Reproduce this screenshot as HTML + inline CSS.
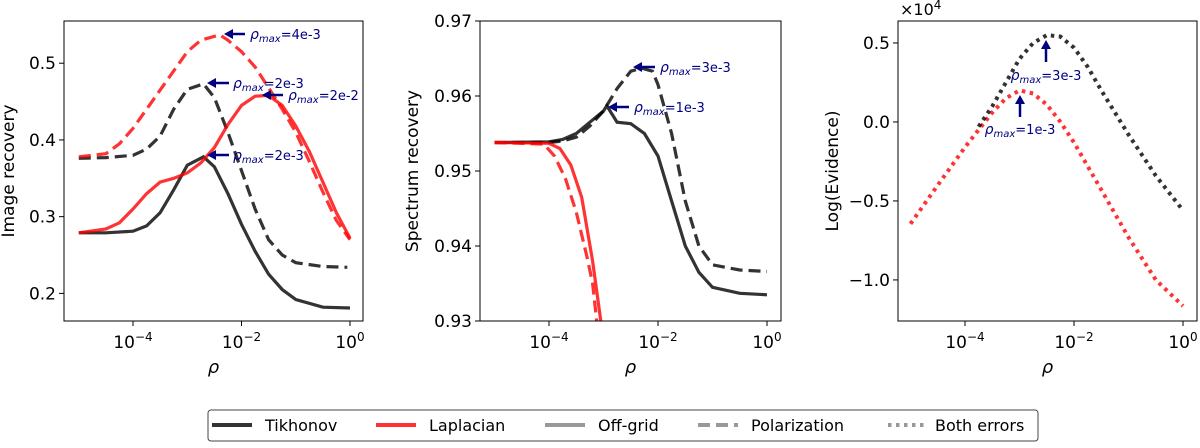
<!DOCTYPE html>
<html><head><meta charset="utf-8"><style>
body{margin:0;background:#fff;width:1200px;height:443px;overflow:hidden}
svg{font-family:"DejaVu Sans","Liberation Sans",sans-serif}
</style></head><body>
<svg id="c" width="1200" height="443"></svg>
<script>
// Panel 1 data (exponents of rho, values)
const p1TikSolidX=[-5,-4.5,-4,-3.75,-3.5,-3.25,-3,-2.7,-2.5,-2.25,-2,-1.75,-1.5,-1.25,-1,-0.5,0];
const p1TikSolidY=[0.279,0.279,0.281,0.288,0.305,0.335,0.367,0.378,0.365,0.33,0.29,0.255,0.225,0.205,0.192,0.182,0.181];
const p1TikDashX=[-5,-4.5,-4,-3.75,-3.5,-3.25,-3,-2.7,-2.5,-2.25,-2,-1.75,-1.5,-1.25,-1,-0.5,-0.05];
const p1TikDashY=[0.376,0.377,0.38,0.388,0.405,0.44,0.466,0.473,0.455,0.41,0.36,0.31,0.27,0.25,0.24,0.235,0.234];
const p1LapSolidX=[-5,-4.5,-4.25,-4,-3.75,-3.5,-3.25,-3,-2.75,-2.5,-2.25,-2,-1.75,-1.5,-1.25,-1,-0.75,-0.5,-0.25,0];
const p1LapSolidY=[0.279,0.284,0.292,0.31,0.33,0.345,0.35,0.357,0.37,0.39,0.42,0.445,0.457,0.458,0.445,0.418,0.385,0.345,0.305,0.272];
const p1LapDashX=[-5,-4.5,-4.25,-4,-3.75,-3.5,-3.25,-3,-2.75,-2.4,-2.25,-2,-1.75,-1.5,-1.25,-1,-0.75,-0.5,-0.25,0];
const p1LapDashY=[0.378,0.382,0.395,0.415,0.44,0.465,0.49,0.515,0.53,0.537,0.53,0.515,0.495,0.468,0.44,0.41,0.372,0.332,0.295,0.27];
// Panel 2
const p2TikSolidX=[-5,-4,-3.75,-3.5,-3.25,-3,-2.94,-2.75,-2.5,-2.25,-2,-1.75,-1.5,-1.25,-1,-0.5,0];
const p2TikSolidY=[0.9538,0.9539,0.9542,0.955,0.9565,0.958,0.9587,0.9565,0.9563,0.955,0.952,0.946,0.94,0.9365,0.9345,0.9337,0.9335];
const p2TikDashX=[-5,-4,-3.75,-3.5,-3.25,-3,-2.75,-2.5,-2.3,-2.1,-2,-1.75,-1.5,-1.25,-1,-0.5,0];
const p2TikDashY=[0.9538,0.9538,0.954,0.9545,0.956,0.958,0.961,0.9633,0.9637,0.9633,0.9615,0.955,0.946,0.94,0.9375,0.9368,0.9366];
const p2LapSolidX=[-5,-4,-3.8,-3.6,-3.4,-3.2,-3.05,-2.95];
const p2LapSolidY=[0.9538,0.9537,0.953,0.9508,0.9465,0.938,0.93,0.925];
const p2LapDashX=[-5,-4.1,-3.9,-3.7,-3.5,-3.3,-3.2,-3.05];
const p2LapDashY=[0.9538,0.9536,0.952,0.949,0.9445,0.9385,0.935,0.925];
// Panel 3
const p3RedX=[-5,-4.5,-4,-3.75,-3.5,-3.25,-3,-2.75,-2.5,-2.25,-2,-1.5,-1,-0.5,0];
const p3RedY=[-0.645,-0.4,-0.16,-0.05,0.06,0.15,0.2,0.18,0.11,0.0,-0.13,-0.43,-0.73,-1.0,-1.165];
const p3BlackX=[-3.75,-3.5,-3.25,-3,-2.75,-2.5,-2.25,-2,-1.75,-1.5,-1,-0.5,0];
const p3BlackY=[-0.03,0.1,0.25,0.4,0.5,0.55,0.54,0.47,0.35,0.2,-0.08,-0.34,-0.56];
const xTickExps=[-4,-2,0];
const p1YTicks=[0.2,0.3,0.4,0.5];
const p2YTicks=[0.93,0.94,0.95,0.96,0.97];
const p3YTicks=[-1.0,-0.5,0.0,0.5];

const NS="http://www.w3.org/2000/svg";
const svg=document.getElementById('c');
function el(t,a,p){const e=document.createElementNS(NS,t);for(const k in a)e.setAttribute(k,a[k]);(p||svg).appendChild(e);return e;}

const panels=[
 {x0:64,x1:363,y0:21,y1:321,xa:133,xb:350,ymin:0.164,ymax:0.555,ticks:p1YTicks,fmt:v=>v.toFixed(1),label:"Image recovery",name:"image-recovery"},
 {x0:480,x1:781,y0:21,y1:321,xa:549,xb:767,ymin:0.93,ymax:0.97,ticks:p2YTicks,fmt:v=>v.toFixed(2),label:"Spectrum recovery",name:"spectrum-recovery"},
 {x0:898,x1:1197,y0:21,y1:321,xa:965,xb:1183,ymin:-1.26,ymax:0.639,ticks:p3YTicks,fmt:v=>(v<0?"\u2212":"")+Math.abs(v).toFixed(1),label:"Log(Evidence)",name:"log-evidence"}
];
panels.forEach((P,i)=>{
 P.sx=e=>P.xa+(e+4)*(P.xb-P.xa)/4;
 P.sy=v=>P.y1-(v-P.ymin)/(P.ymax-P.ymin)*(P.y1-P.y0);
 const g=el('g',{});  
 const cp=el('clipPath',{id:'cp'+i},g); el('rect',{x:P.x0,y:P.y0,width:P.x1-P.x0,height:P.y1-P.y0},cp);
 P.g=g;
 xTickExps.forEach(e=>{const x=P.sx(e);el('line',{x1:x,x2:x,y1:P.y1,y2:P.y1+5,stroke:'#000'},g);
  const t=el('text',{x:x,y:P.y1+27,'font-size':17,'text-anchor':'middle'},g);
  t.textContent='10';const s=el('tspan',{dy:-7,'font-size':12},t);s.textContent=e<0?'\u2212'+(-e):String(e);});
 P.ticks.forEach(v=>{const y=P.sy(v);el('line',{x1:P.x0-5,x2:P.x0,y1:y,y2:y,stroke:'#000'},g);
  const t=el('text',{x:P.x0-8,y:y+6,'font-size':17,'text-anchor':'end'},g);t.textContent=P.fmt(v);});
 const xl=el('text',{x:(P.x0+P.x1)/2,y:P.y1+52,'font-size':18,'font-style':'italic','text-anchor':'middle'},g);xl.textContent='\u03c1';
 const yx=P.x0-(i==0?50:i==1?62:60), ym=(P.y0+P.y1)/2;
 const yl=el('text',{x:yx,y:ym,'font-size':17,'text-anchor':'middle',transform:`rotate(-90 ${yx} ${ym})`},g);yl.textContent=P.label;
});
function line(P,i,xs,ys,color,dash,name,w){
 const d=xs.map((e,k)=>(k?'L':'M')+P.sx(e).toFixed(1)+','+P.sy(ys[k]).toFixed(1)).join('');
 const p=el('path',{d:d,fill:'none',stroke:color,'stroke-width':w||3.2,'stroke-opacity':0.8,'stroke-dasharray':dash,'clip-path':`url(#cp${i})`},P.g);
 
}
const K='#000',R='#ff0000';
line(panels[0],0,p1TikSolidX,p1TikSolidY,K,'none','tikhonov-offgrid-line');
line(panels[0],0,p1TikDashX,p1TikDashY,K,'12,6','tikhonov-polarization-line');
line(panels[0],0,p1LapSolidX,p1LapSolidY,R,'none','laplacian-offgrid-line');
line(panels[0],0,p1LapDashX,p1LapDashY,R,'12,6','laplacian-polarization-line');
line(panels[1],1,p2TikSolidX,p2TikSolidY,K,'none','tikhonov-offgrid-line');
line(panels[1],1,p2TikDashX,p2TikDashY,K,'12,6','tikhonov-polarization-line');
line(panels[1],1,p2LapSolidX,p2LapSolidY,R,'none','laplacian-offgrid-line');
line(panels[1],1,p2LapDashX,p2LapDashY,R,'12,6','laplacian-polarization-line');
line(panels[2],2,p3RedX,p3RedY,R,'3.5,4.5','laplacian-both-errors-line',4);
line(panels[2],2,p3BlackX,p3BlackY,K,'3.5,4.5','tikhonov-both-errors-line',4);
panels.forEach(P=>{const r=el('rect',{x:P.x0,y:P.y0,width:P.x1-P.x0,height:P.y1-P.y0,fill:'none',stroke:'#000','stroke-width':1},P.g);});
// annotations
const N='#000080';
function ann(x,y,txt,anchor){const t=el('text',{x:x,y:y,'font-size':13,fill:N,'text-anchor':anchor||'start'});
 el('tspan',{'font-style':'italic','font-size':14},t).textContent='\u03c1';const s=el('tspan',{'font-style':'italic','font-size':10,dy:3},t);s.textContent='max';const r=el('tspan',{dy:-3},t);r.textContent=txt;}
function arrowL(x1,x2,y){el('line',{x1:x1,x2:x2+6,y1:y,y2:y,stroke:N,'stroke-width':2.5});el('path',{d:`M${x2},${y}L${x2+9},${y-5}L${x2+9},${y+5}Z`,fill:N});}
function arrowU(x,y1,y2){el('line',{x1:x,x2:x,y1:y1,y2:y2+6,stroke:N,'stroke-width':2.5});el('path',{d:`M${x},${y2}L${x-5},${y2+9}L${x+5},${y2+9}Z`,fill:N});}
arrowL(245,224,34);ann(250,39,'=4e-3');
arrowL(229,207,83);ann(233,88,'=2e-3');
arrowL(283,262,95);ann(288,100,'=2e-2');
arrowL(229,207,155);ann(233,160,'=2e-3');
arrowL(655,633,67);ann(660,72,'=3e-3');
arrowL(629,608,107);ann(634,112,'=1e-3');
arrowU(1046,62,40);ann(1046,80,'=3e-3','middle');
arrowU(1020,117,95);ann(1020,134,'=1e-3','middle');
const mul=el('text',{x:900,y:15,'font-size':16});
mul.textContent='\u00d710';el('tspan',{dy:-6,'font-size':12},mul).textContent='4';
// legend
const lg=el('g',{});
el('rect',{x:208,y:410,width:830,height:31,rx:3,fill:'#fff',stroke:'#444','stroke-width':1},lg);
const items=[['Tikhonov','#333','none',212,265],['Laplacian','#ff3333','none',376,429],['Off-grid','#999','none',545,598],['Polarization','#999','12,6',698,751],['Both errors','#999','3.5,4.5',888,935]];
items.forEach(it=>{const g=el('g',{},lg);
 el('line',{x1:it[3],x2:it[3]+40,y1:425,y2:425,stroke:it[1],'stroke-width':4,'stroke-dasharray':it[2]},g);
 const t=el('text',{x:it[4],y:431,'font-size':16},g);t.textContent=it[0];});
</script>
</body></html>
